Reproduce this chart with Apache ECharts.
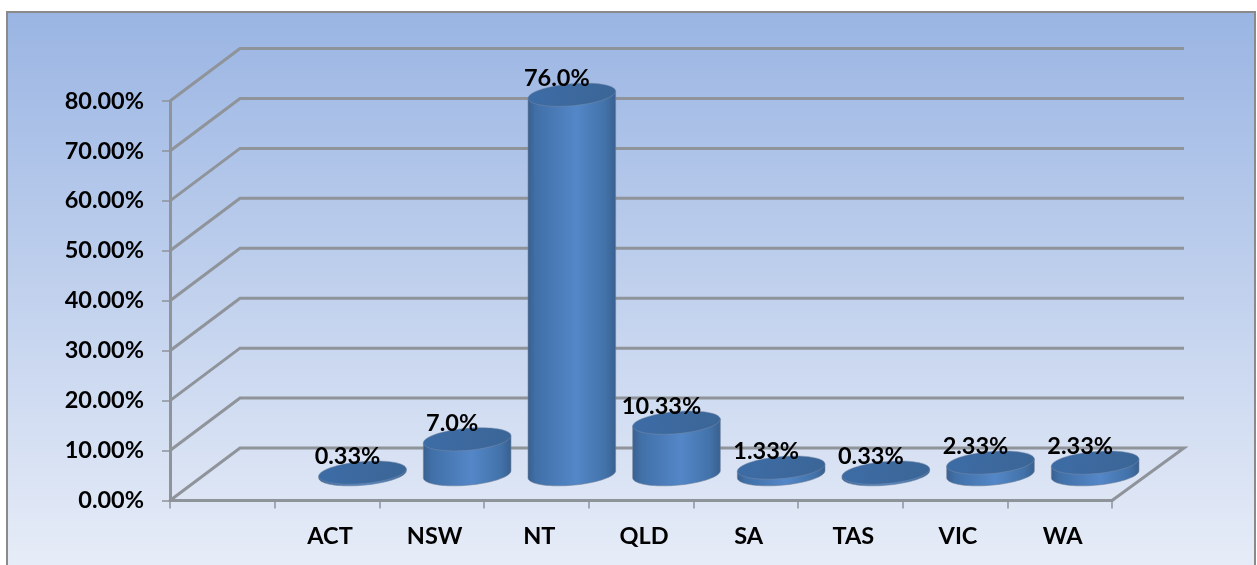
<!DOCTYPE html>
<html><head><meta charset="utf-8">
<style>html,body{margin:0;padding:0;background:#fff;overflow:hidden}#c{width:1257px;height:565px}</style>
<script src="https://cdn.jsdelivr.net/npm/echarts@6/dist/echarts.min.js"></script>
</head><body><div id="c"></div>
<script>
const categories = ['', 'ACT', 'NSW', 'NT', 'QLD', 'SA', 'TAS', 'VIC', 'WA'];
const values = [null, 0.33, 7.0, 76.0, 10.33, 1.33, 0.33, 2.33, 2.33];
const valueLabels = ['', '0.33%', '7.0%', '76.0%', '10.33%', '1.33%', '0.33%', '2.33%', '2.33%'];
const yTicks = [0, 10, 20, 30, 40, 50, 60, 70, 80];

const FONT = 'Lato';
const FS = 23.5;
const DX = 71, DY = 52.5;
const LINE = '#8f939a';
const TILT = -5 * Math.PI / 180;

const chart = echarts.init(document.getElementById('c'), null, {renderer: 'canvas'});

function ellipsePt(cx, cy, a, b, t) {
  return [
    cx + a * Math.cos(t) * Math.cos(TILT) - b * Math.sin(t) * Math.sin(TILT),
    cy + a * Math.cos(t) * Math.sin(TILT) + b * Math.sin(t) * Math.cos(TILT)
  ];
}
function ellipsePts(cx, cy, a, b, from, to, n) {
  const r = [];
  for (let i = 0; i <= n; i++) r.push(ellipsePt(cx, cy, a, b, from + (to - from) * i / n));
  return r;
}
const bodyFill = {type: 'linear', x: 0, y: 0, x2: 1, y2: 0, colorStops: [
  {offset: 0, color: '#3a5f8f'}, {offset: 0.1, color: '#4170a8'}, {offset: 0.55, color: '#5487c8'},
  {offset: 0.88, color: '#4272a9'}, {offset: 1, color: '#395f8e'}]};
const topFill = {type: 'linear', x: 0, y: 0, x2: 1, y2: 1, colorStops: [
  {offset: 0, color: '#3d6ca6'}, {offset: 1, color: '#3b6596'}]};

function renderWall(params, api) {
  const t = api.value(1);
  const band = api.size([1, 0])[0];
  const p = api.coord([0, t]);
  const x0 = p[0] - band / 2, x1 = x0 + band * 9;
  const y = p[1];
  const pts = [[x0, y], [x0 + DX - 1, y - DY], [x1 + DX + 1, y - DY]];
  if (t === 0) pts.push([x1, y]);
  return {type: 'polyline', shape: {points: pts}, style: {stroke: LINE, lineWidth: 3, fill: null}, silent: true};
}
function renderCyl(params, api) {
  const i = api.value(0), v = api.value(1);
  const band = api.size([1, 0])[0];
  const base = api.coord([i, 0]), top = api.coord([i, v]);
  const cx = base[0] + DX / 2, by = base[1] - DY / 2, ty = top[1] - DY / 2;
  const a = band * 0.42, b = 11;
  const t0 = Math.atan(-(b / a) * Math.tan(TILT));
  const arc = ellipsePts(cx, by, a, b, t0, t0 + Math.PI, 48);
  const body = arc.concat([ellipsePt(cx, ty, a, b, t0 + Math.PI), ellipsePt(cx, ty, a, b, t0)]);
  return {type: 'group', children: [
    {type: 'polygon', shape: {points: body}, style: {fill: bodyFill, stroke: 'rgba(110,125,150,.55)', lineWidth: 1}},
    {type: 'polygon', shape: {points: ellipsePts(cx, ty, a, b, 0, Math.PI * 2, 72)},
     style: {fill: topFill, stroke: 'rgba(120,140,170,.5)', lineWidth: 1}}
  ]};
}
function renderLabel(params, api) {
  const i = api.value(0), v = api.value(1);
  const top = api.coord([i, v]);
  return {type: 'text', style: {text: valueLabels[i], x: top[0] + DX / 2 - 15, y: top[1] - DY / 2 - 16,
    align: 'center', verticalAlign: 'middle', textAlign: 'center', textVerticalAlign: 'middle',
    font: 'bold ' + FS + 'px ' + FONT, fill: '#000'}};
}
const barData = values.map((v, i) => [i, v]).filter(d => d[1] !== null);

chart.setOption({
  animation: false,
  backgroundColor: '#fff',
  graphic: [{type: 'rect', z: -10, shape: {x: 7, y: 12, width: 1248, height: 570},
    style: {stroke: '#8a8a8a', lineWidth: 2, fill: {type: 'linear', x: 0, y: 0, x2: 0, y2: 1, colorStops: [
      {offset: 0, color: '#9ab5e3'}, {offset: 1, color: '#e9eef8'}]}}}],
  grid: {left: 170, top: 101, width: 942, height: 399.5},
  xAxis: {type: 'category', data: categories, boundaryGap: true,
    axisLine: {lineStyle: {color: LINE, width: 3}},
    axisTick: {show: true, length: 8, alignWithLabel: false, lineStyle: {color: LINE, width: 1.5}},
    axisLabel: {interval: 0, margin: 24, padding: [0, 0, 0, 6], color: '#000', fontFamily: FONT, fontWeight: 'bold', fontSize: FS}},
  yAxis: {type: 'value', min: 0, max: 80, interval: 10,
    axisLine: {show: true, lineStyle: {color: LINE, width: 3}},
    axisTick: {show: true, length: 8, lineStyle: {color: LINE, width: 1.5}},
    splitLine: {show: false},
    axisLabel: {margin: 26, padding: [4, 0, 0, 0], color: '#000', fontFamily: FONT, fontWeight: 'bold', fontSize: FS,
      formatter: v => v.toFixed(2) + '%'}},
  series: [
    {type: 'custom', name: 'walls', z: 1, silent: true, renderItem: renderWall, data: yTicks.map(t => [0, t]), encode: {x: 0, y: 1}},
    {type: 'custom', name: 'cylinders', z: 3, renderItem: renderCyl, data: barData, encode: {x: 0, y: 1}},
    {type: 'custom', name: 'labels', z: 5, renderItem: renderLabel, data: barData, encode: {x: 0, y: 1}}
  ]
});
</script></body></html>
